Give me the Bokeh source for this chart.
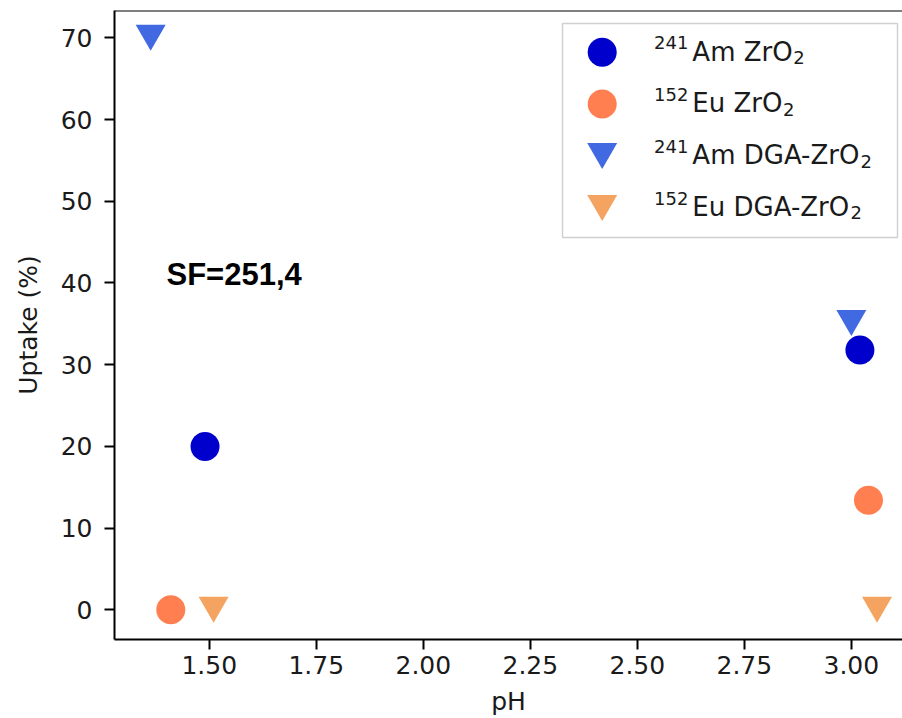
from bokeh.plotting import figure
from bokeh.models import Range1d, FixedTicker, NumeralTickFormatter, Label, Span, ColumnDataSource
from bokeh.transform import dodge
from bokeh.embed import file_html
from bokeh.resources import INLINE
from bokeh.core.properties import value

# ---------------- data ----------------
ph_am_zro2 = [1.49, 3.02]
uptake_am_zro2 = [20.0, 31.8]
ph_eu_zro2 = [1.41, 3.04]
uptake_eu_zro2 = [0.0, 13.4]
ph_am_dga = [1.363, 3.00]
uptake_am_dga = [70.0, 35.1]
ph_eu_dga = [1.51, 3.06]
uptake_eu_dga = [0.0, 0.0]

legend_isotopes = ["241", "152", "241", "152"]
legend_names = ["Am ZrO", "Eu ZrO", "Am DGA-ZrO", "Eu DGA-ZrO"]
legend_subscripts = ["2", "2", "2", "2"]
x_ticks = [1.50, 1.75, 2.00, 2.25, 2.50, 2.75, 3.00]
y_ticks = [0, 10, 20, 30, 40, 50, 60, 70]
x_label = "pH"
y_label = "Uptake (%)"
sf_text = "SF=251,4"
sf_pos = (1.40, 40.0)

# ---------------- styles ----------------
series = [
    (ph_am_zro2, uptake_am_zro2, "mediumblue", "circle", 29),
    (ph_eu_zro2, uptake_eu_zro2, "coral", "circle", 29),
    (ph_am_dga, uptake_am_dga, "royalblue", "inverted_triangle", 30),
    (ph_eu_dga, uptake_eu_dga, "sandybrown", "inverted_triangle", 30),
]

FRAME_W, FRAME_H = 788, 629
X0, X1 = 1.2785, 3.1195
Y0, Y1 = -3.63, 73.34
FONT = "DejaVu Sans"
TXT = "#1a1a1a"
PX_PER_Y = FRAME_H / (Y1 - Y0)

p = figure(frame_width=FRAME_W, frame_height=FRAME_H,
           x_range=Range1d(X0, X1), y_range=Range1d(Y0, Y1),
           output_backend="svg", toolbar_location=None,
           min_border_left=114, min_border_right=0,
           min_border_top=10, min_border_bottom=79,
           background_fill_color="white", border_fill_color="white")
p.outline_line_color = None
p.grid.visible = False

p.extra_x_ranges = {"px": Range1d(0, FRAME_W)}
p.extra_y_ranges = {"py": Range1d(0, FRAME_H)}

for ax in (p.xaxis[0], p.yaxis[0]):
    ax.axis_line_width = 2
    ax.axis_line_color = "black"
    ax.major_tick_line_width = 2
    ax.major_tick_line_color = "black"
    ax.major_tick_out = 10
    ax.major_tick_in = 0
    ax.minor_tick_out = 0
    ax.minor_tick_in = 0
    ax.major_label_text_font = FONT
    ax.major_label_text_font_size = "25px"
    ax.major_label_text_color = TXT
    ax.axis_label_text_font = FONT
    ax.axis_label_text_font_size = "25px"
    ax.axis_label_text_font_style = "normal"
    ax.axis_label_text_color = TXT

p.xaxis.ticker = FixedTicker(ticks=x_ticks)
p.xaxis.formatter = NumeralTickFormatter(format="0.00")
p.xaxis.major_label_standoff = 6
p.xaxis.axis_label = x_label
p.xaxis.axis_label_standoff = 10

p.yaxis.ticker = FixedTicker(ticks=y_ticks)
p.yaxis.major_label_standoff = 12
p.yaxis.axis_label = y_label
p.yaxis.axis_label_standoff = 15

# top spine
p.add_layout(Span(location=Y1, dimension="width", line_color="black", line_width=2))

# data marks (triangles are re-anchored on their bounding-box centre, as in the reference)
for xs, ys, color, marker, size in series:
    src = ColumnDataSource(dict(x=xs, y=ys))
    shift = (size * 0.866 / 6) / PX_PER_Y if marker == "inverted_triangle" else 0.0
    p.scatter(x="x", y=dodge("y", shift, range=p.y_range), source=src, marker=marker,
              size=size, fill_color=color, line_color=color, line_width=0)

# annotation
p.add_layout(Label(x=sf_pos[0], y=sf_pos[1], text=sf_text, text_font="Liberation Sans",
                   text_font_style="bold", text_font_size="31px", text_color="black",
                   text_baseline="middle", text_align="left", y_offset=8))

# ---------------- legend (frame pixel coordinates) ----------------
ADV = {"A": 0.6841, "m": 0.9741, " ": 0.3179, "Z": 0.6860, "r": 0.4111, "O": 0.7871,
       "E": 0.6318, "u": 0.6338, "D": 0.7700, "G": 0.7759, "-": 0.3608}


def text_w(s, size):
    return sum(ADV.get(c, 0.6362) for c in s) * size


p.quad(left=[448], right=[783], bottom=[402], top=[616],
       x_range_name="px", y_range_name="py",
       fill_color="white", fill_alpha=0.8, line_color="#d0d0d0", line_width=1.5)

MX = 487.7
ROW0 = 587.3
ROW_DY = 51.9
SUP_X = 539.5
SUP_SIZE = 18
MAIN_SIZE = 26
for i, (xs, ys, color, marker, size) in enumerate(series):
    ry = ROW0 - i * ROW_DY
    my = ry + (size * 0.866 / 6 if marker == "inverted_triangle" else 0)
    p.scatter([MX], [my], marker=marker, size=size, fill_color=color, line_color=color,
              line_width=0, x_range_name="px", y_range_name="py")
    main_x = SUP_X + text_w(legend_isotopes[i], SUP_SIZE) + 4
    sub_x = main_x + text_w(legend_names[i], MAIN_SIZE) + 0.5
    common = dict(text_font=value(FONT), text_color=TXT, text_baseline="middle",
                  text_align="left", x_range_name="px", y_range_name="py")
    p.text([SUP_X], [ry + 9.5], text=[legend_isotopes[i]],
           text_font_size=f"{SUP_SIZE}px", **common)
    p.text([main_x], [ry + 0.7], text=[legend_names[i]],
           text_font_size=f"{MAIN_SIZE}px", **common)
    p.text([sub_x], [ry - 5], text=[legend_subscripts[i]],
           text_font_size=f"{SUP_SIZE}px", **common)

open("out.html", "w").write(file_html(p, INLINE))
